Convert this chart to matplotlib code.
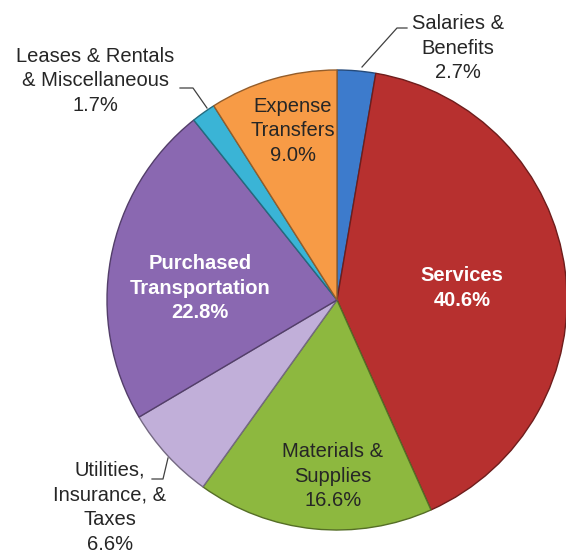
import matplotlib.pyplot as plt
import matplotlib.colors as mcolors

plt.rcParams['font.family'] = ['Liberation Sans', 'DejaVu Sans']

# expense categories, clockwise from 12 o'clock
categories = ['Salaries &\nBenefits', 'Services', 'Materials &\nSupplies',
              'Utilities,\nInsurance, &\nTaxes', 'Purchased\nTransportation',
              'Leases & Rentals\n& Miscellaneous', 'Expense\nTransfers']
shares = [2.7, 40.6, 16.6, 6.6, 22.8, 1.7, 9.0]
colors = ['#3d7bcc', '#b7302f', '#8db83f', '#c1afd9', '#8a68b1', '#3ab4d6', '#f79b46']

W, H = 566, 553
fig = plt.figure(figsize=(W / 100, H / 100), dpi=100)
ax = fig.add_axes([0, 0, 1, 1])

cx, cy, r = 337, H - 300, 230

wedges, _ = ax.pie(shares, colors=colors, startangle=90, counterclock=False,
                   center=(cx, cy), radius=r,
                   wedgeprops=dict(linewidth=1.0))
for w, c in zip(wedges, colors):
    dark = [v * 0.6 for v in mcolors.to_rgb(c)]
    w.set_edgecolor(dark)

ax.set_xlim(0, W)
ax.set_ylim(0, H)
ax.set_aspect('equal')
ax.axis('off')


def y(py):
    return H - py


def label(i, x, py, color='#262626', bold=False, size=14.5):
    ax.text(x, y(py), f"{categories[i]}\n{shares[i]:.1f}%", ha='center', va='center',
            color=color, fontsize=size, fontweight='bold' if bold else 'normal',
            linespacing=1.38)


# inside labels
label(1, 462, 288, color='white', bold=True)
label(4, 200, 288, color='white', bold=True)
label(6, 293, 131)
label(2, 333, 476)

# outside labels
label(0, 458, 48)
label(5, 95, 81)
label(3, 110, 507)

# leader lines
line_kw = dict(color='#404040', linewidth=0.9)
ax.plot([407, 397, 362], [y(28), y(28), y(67)], **line_kw)
ax.plot([180, 193, 207], [y(88), y(88), y(108)], **line_kw)
ax.plot([152, 163, 168], [y(479), y(479), y(458)], **line_kw)

fig.savefig('out.png', dpi=100)
